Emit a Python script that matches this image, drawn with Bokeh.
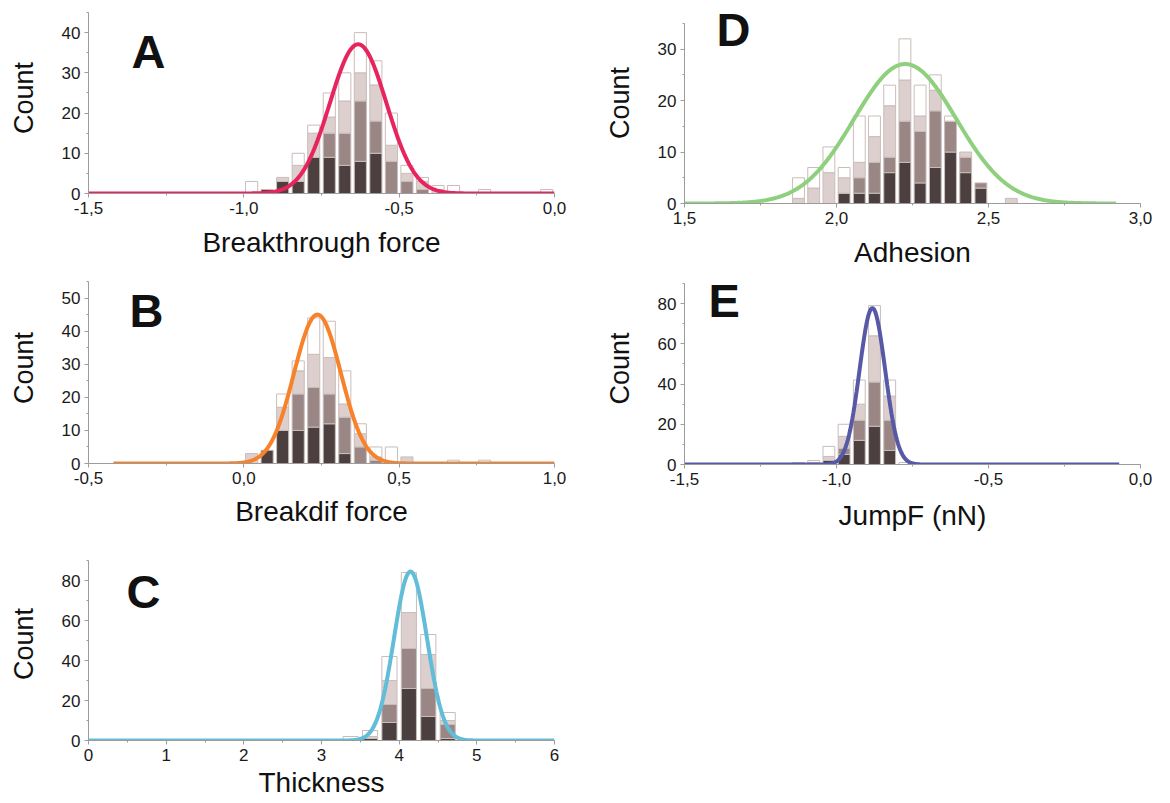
import math
from bokeh.plotting import figure
from bokeh.layouts import row, column
from bokeh.models import Range1d, SingleIntervalTicker, CustomJSTickFormatter, Label, ColumnDataSource
from bokeh.embed import file_html
from bokeh.resources import INLINE

# ---------------- data ----------------
# Panel A : Breakthrough force
a_x = [-0.975, -0.925, -0.875, -0.825, -0.775, -0.725, -0.675, -0.625, -0.575, -0.525,
       -0.475, -0.425, -0.375, -0.325, -0.275, -0.225, -0.175, -0.125, -0.075, -0.025]
a_dark = [0, 1, 3, 3, 9, 9, 7, 8, 10, 0, 0, 0, 0, 0, 0, 0, 0, 0, 0, 0]
a_mid = [0, 0, 0, 0, 0, 6, 8, 15, 8, 8, 3, 1, 0, 0, 0, 0, 0, 0, 0, 0]
a_light = [0, 0, 1, 4, 6, 4, 8, 7, 9, 4, 2, 2, 1, 0, 0, 0, 0, 0, 0, 0]
a_white = [3, 0, 0, 3, 2, 6, 7, 10, 6, 8, 2, 1, 1, 2, 0, 1, 0, 0, 0, 1]
a_fit = dict(mu=-0.632, amp=37.1, sigma=0.091, x0=-1.5, x1=0.0)

# Panel B : Breakdif force
b_x = [0.025, 0.075, 0.125, 0.175, 0.225, 0.275, 0.325, 0.375, 0.425, 0.475,
       0.525, 0.575, 0.625, 0.675, 0.725, 0.775]
b_dark = [0, 4, 10, 10, 11, 12, 3, 0, 0, 0, 0, 0, 0, 0, 0, 0]
b_mid = [0, 0, 0, 11, 12, 9, 11, 5, 1, 0, 0, 0, 0, 0, 0, 0]
b_light = [3, 0, 7, 7, 10, 11, 4, 4, 1, 0, 2, 0, 0, 0, 0, 0]
b_white = [0, 0, 4, 3, 11, 11, 10, 3, 3, 5, 0, 0, 0, 1, 0, 1]
b_fit = dict(mu=0.237, amp=45.0, sigma=0.0755, x0=-0.42, x1=1.0)

# Panel C : Thickness
c_x = [3.375, 3.625, 3.875, 4.125, 4.375, 4.625]
c_dark = [0, 1, 9, 26, 12, 1]
c_mid = [0, 0, 9, 20, 14, 7]
c_light = [0, 1, 12, 18, 17, 2]
c_white = [2, 3, 12, 20, 10, 4]
c_fit = dict(mu=4.146, amp=84.5, sigma=0.212, x0=0.0, x1=6.0)

# Panel D : Adhesion
d_x = [1.875, 1.925, 1.975, 2.025, 2.075, 2.125, 2.175, 2.225, 2.275, 2.325,
       2.375, 2.425, 2.475, 2.525, 2.575]
d_dark = [0, 0, 0, 2, 2, 2, 6, 8, 4, 7, 10, 6, 3, 0, 0]
d_mid = [0, 0, 0, 0, 3, 6, 3, 8, 10, 11, 6, 3, 1, 0, 0]
d_light = [1, 3, 6, 3, 3, 5, 10, 8, 3, 4, 0, 1, 0, 0, 1]
d_white = [4, 4, 5, 2, 9, 4, 4, 8, 6, 3, 1, 0, 0, 0, 0]
d_fit = dict(mu=2.226, amp=27.1, sigma=0.168, x0=1.5, x1=2.92)

# Panel E : JumpF (nN)
e_x = [-1.125, -1.075, -1.025, -0.975, -0.925, -0.875, -0.825, -0.775]
e_dark = [0, 0, 2, 5, 12, 19, 7, 0]
e_mid = [0, 0, 0, 3, 10, 22, 15, 0]
e_light = [1, 1, 2, 6, 8, 23, 12, 0]
e_white = [0, 1, 5, 6, 12, 15, 8, 1]
e_fit = dict(mu=-0.882, amp=77.8, sigma=0.042, x0=-1.5, x1=-0.07)

# ---------------- styling ----------------
FONT = "Liberation Sans"
LAYER_COLORS = ["#4b403f", "#998685", "#dccfce", "#ffffff"]
BAR_LINE = "#c9bdba"
AXIS_COLOR = "#9c9c9c"
TOP_PAD = 2

comma_fmt = CustomJSTickFormatter(code="""
var s = Math.abs(tick) < 1e-9 ? '0.0' : tick.toFixed(1);
return s.replace('.', ',');
""")


def make_panel(letter, xs, layers, bin_w, fit, fit_color, xlabel, xr, ymax,
               xint, yint, width, height, left, right, axis_top, axis_bottom,
               letter_left, letter_top, xlabel_standoff, int_x=False):
    # frame reaches close to the top of the figure so the panel letter is not clipped;
    # the y axis itself is bounded to [0, ymax]
    frame_h = axis_bottom - TOP_PAD
    y_hi = ymax * frame_h / (axis_bottom - axis_top)
    p = figure(width=width, height=height, x_range=Range1d(*xr), y_range=Range1d(0, y_hi),
               min_border_left=left, min_border_right=right,
               min_border_top=TOP_PAD, min_border_bottom=height - axis_bottom,
               output_backend="svg", toolbar_location=None)
    p.grid.visible = False
    p.outline_line_color = None
    p.background_fill_color = "white"
    p.border_fill_color = "white"

    # stacked bars
    base = [0] * len(xs)
    for layer, col in zip(layers, LAYER_COLORS):
        bx, bb, bt = [], [], []
        for i, v in enumerate(layer):
            if v > 0:
                bx.append(xs[i])
                bb.append(base[i])
                bt.append(base[i] + v)
            base[i] += v
        src = ColumnDataSource(dict(x=bx, bottom=bb, top=bt))
        p.vbar(x="x", bottom="bottom", top="top", width=bin_w * 0.78, source=src,
               fill_color=col, line_color=BAR_LINE, line_width=1)

    # gaussian fit curve
    n = 400
    fx = [fit["x0"] + (fit["x1"] - fit["x0"]) * k / (n - 1) for k in range(n)]
    fy = [fit["amp"] * math.exp(-((v - fit["mu"]) ** 2) / (2 * fit["sigma"] ** 2)) for v in fx]
    p.line(fx, fy, line_color=fit_color, line_width=4)

    # axes
    p.xaxis.ticker = SingleIntervalTicker(interval=xint, num_minor_ticks=2)
    p.yaxis.ticker = SingleIntervalTicker(interval=yint, num_minor_ticks=2)
    p.yaxis.bounds = (0, ymax)
    if not int_x:
        p.xaxis.formatter = comma_fmt
    for ax in [p.xaxis[0], p.yaxis[0]]:
        ax.axis_line_color = AXIS_COLOR
        ax.axis_line_width = 1
        ax.major_tick_line_color = AXIS_COLOR
        ax.minor_tick_line_color = AXIS_COLOR
        ax.major_tick_out = 4
        ax.major_tick_in = 0
        ax.minor_tick_out = 2
        ax.minor_tick_in = 0
        ax.major_label_text_font = FONT
        ax.major_label_text_font_size = "17px"
        ax.major_label_text_color = "#1a1a1a"
        ax.major_label_standoff = 4
        ax.axis_label_text_font = FONT
        ax.axis_label_text_font_style = "normal"
        ax.axis_label_text_color = "#111111"
    p.xaxis.axis_label_text_font_size = "28px"
    p.yaxis.axis_label_text_font_size = "27px"
    p.xaxis.axis_label = xlabel
    p.yaxis.axis_label = "Count"
    p.xaxis.axis_label_standoff = xlabel_standoff
    p.yaxis.axis_label_standoff = 20

    # panel letter (positions given relative to the figure's top-left corner)
    p.add_layout(Label(x=letter_left - left, y=axis_bottom - letter_top,
                       x_units="screen", y_units="screen",
                       text=letter, text_font=FONT, text_font_style="bold",
                       text_font_size="47px", text_color="#111111",
                       text_align="left", text_baseline="top"))
    return p


pA = make_panel("A", a_x, [a_dark, a_mid, a_light, a_white], 0.05, a_fit, "#e8245e",
                "Breakthrough force", (-1.5, 0.0), 45, 0.5, 10,
                590, 270, 88, 36, 12, 193, 131, 24, 10)
pB = make_panel("B", b_x, [b_dark, b_mid, b_light, b_white], 0.05, b_fit, "#f7822a",
                "Breakdif force", (-0.5, 1.0), 55, 0.5, 10,
                590, 275, 88, 36, 11, 193, 129, 13, 9)
pC = make_panel("C", c_x, [c_dark, c_mid, c_light, c_white], 0.25, c_fit, "#62bdd8",
                "Thickness", (0, 6), 90, 1, 20,
                590, 258, 88, 36, 15, 195, 126, 19, 3, int_x=True)
pD = make_panel("D", d_x, [d_dark, d_mid, d_light, d_white], 0.05, d_fit, "#8fd07f",
                "Adhesion", (1.5, 3.0), 35, 0.5, 10,
                580, 270, 94, 21, 23, 204, 126, 3, 10)
pE = make_panel("E", e_x, [e_dark, e_mid, e_light, e_white], 0.05, e_fit, "#5758a6",
                "JumpF (nN)", (-1.5, 0.0), 90, 0.5, 20,
                580, 275, 86, 30, 13, 194, 110, 3, 12)

layout = row(column(pA, pB, pC), column(pD, pE))
open("out.html", "w").write(file_html(layout, INLINE))
